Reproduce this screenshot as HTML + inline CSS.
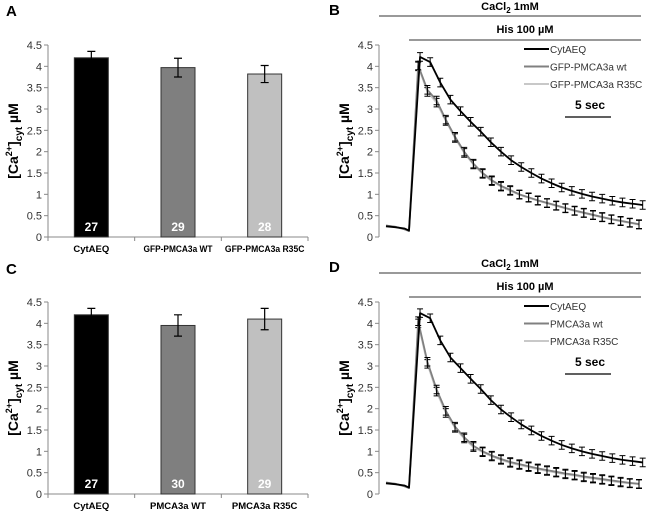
<!DOCTYPE html>
<html><head><meta charset="utf-8"><style>
body{margin:0;background:#fff;}
svg{display:block;font-family:"Liberation Sans",sans-serif;}
</style></head><body>
<svg id="fig" width="646" height="515" viewBox="0 0 646 515" xmlns="http://www.w3.org/2000/svg"></svg>
<script>
// ---- data ----
const barCatsA = ["CytAEQ","GFP-PMCA3a WT","GFP-PMCA3a R35C"];
const barValsA = [4.2, 3.97, 3.82];
const barErrA = [0.15, 0.22, 0.2];
const barNA = ["27","29","28"];
const barCatsC = ["CytAEQ","PMCA3a WT","PMCA3a R35C"];
const barValsC = [4.2, 3.95, 4.1];
const barErrC = [0.15, 0.25, 0.25];
const barNC = ["27","30","29"];
const barColors = ["#000000","#7f7f7f","#c0c0c0"];
const yTicks = [0,0.5,1,1.5,2,2.5,3,3.5,4,4.5];
const yTickLabels = ["0","0.5","1","1.5","2","2.5","3","3.5","4","4.5"];

const preT = [0,1,2,2.5];
const preBlack = [0.25,0.23,0.2,0.15];
const preGray = [0.27,0.24,0.18,0.14];
const blackPeakT = 3.7, blackStep = 1.1;
const grayPeakT = 3.5, grayStep = 1.0;
const blackB = [4.22,4.1,3.62,3.22,2.95,2.7,2.47,2.22,2.0,1.8,1.64,1.5,1.37,1.26,1.16,1.08,1.01,0.95,0.9,0.85,0.81,0.78,0.75];
const grayB = [4.02,3.45,3.2,2.75,2.35,2.0,1.72,1.5,1.33,1.2,1.1,1.0,0.93,0.86,0.8,0.74,0.68,0.62,0.57,0.52,0.47,0.42,0.38,0.34,0.3];
const lightB = [4.0,3.4,3.15,2.72,2.32,1.97,1.7,1.48,1.31,1.18,1.08,0.99,0.92,0.85,0.79,0.73,0.67,0.61,0.56,0.51,0.46,0.41,0.37,0.33,0.29];
const blackD = [4.24,4.12,3.6,3.2,2.95,2.7,2.46,2.2,1.98,1.8,1.63,1.49,1.36,1.25,1.15,1.07,1.0,0.94,0.89,0.84,0.8,0.77,0.74];
const grayD = [4.05,3.1,2.45,1.95,1.58,1.33,1.13,1.0,0.9,0.82,0.75,0.7,0.65,0.6,0.56,0.52,0.48,0.45,0.41,0.38,0.35,0.32,0.29,0.26,0.24];
const lightD = [4.0,3.05,2.4,1.9,1.55,1.3,1.1,0.98,0.88,0.8,0.73,0.68,0.63,0.58,0.54,0.5,0.46,0.43,0.39,0.36,0.33,0.3,0.27,0.25,0.23];
const legendB = ["CytAEQ","GFP-PMCA3a wt","GFP-PMCA3a R35C"];
const legendD = ["CytAEQ","PMCA3a wt","PMCA3a R35C"];

const NS="http://www.w3.org/2000/svg";
const svg=document.getElementById('fig');
function el(tag,attrs,parent,text){const e=document.createElementNS(NS,tag);for(const k in attrs)e.setAttribute(k,attrs[k]);if(text!==undefined)e.textContent=text;(parent||svg).appendChild(e);return e;}

function yAxis(g,x0,y0,yTop){
  const ys=v=>y0-(v/4.5)*(y0-yTop);
  el('line',{x1:x0,y1:y0,x2:x0,y2:yTop,stroke:'#888','stroke-width':1},g);
  yTicks.forEach((v,i)=>{
    el('line',{x1:x0-4,y1:ys(v),x2:x0,y2:ys(v),stroke:'#888'},g);
    const t=el('text',{x:x0-6,y:ys(v)+4,'text-anchor':'end','font-size':11,fill:'#333'},g,yTickLabels[i]);
    
    
  });
  const tt=el('text',{transform:`translate(${x0-30},${(y0+yTop)/2}) rotate(-90)`,'text-anchor':'middle','font-size':14,'font-weight':'bold',fill:'#000'},g);
  
  
  el('tspan',{},tt,'[Ca');
  el('tspan',{dy:-6,'font-size':9},tt,'2+');
  el('tspan',{dy:6},tt,']');
  el('tspan',{dy:4,'font-size':10},tt,'cyt');
  el('tspan',{dy:-4},tt,' µM');
  return ys;
}

function barPanel(letter,ly,y0,yTop,cats,vals,errs,ns,prefix){
  const g=el('g',{});
  
  
  const L=el('text',{x:6,y:ly,'font-size':15,'font-weight':'bold'},g,letter);
  
  
  const x0=48,x1=308;
  const ys=yAxis(g,x0,y0,yTop);
  el('line',{x1:x0,y1:y0,x2:x1,y2:y0,stroke:'#888'},g);
  const bw=(x1-x0)/cats.length;
  for(let i=0;i<=cats.length;i++) el('line',{x1:x0+i*bw,y1:y0,x2:x0+i*bw,y2:y0+4,stroke:'#888'},g);
  cats.forEach((c,i)=>{
    const cx=x0+bw*(i+0.5);
    const r=el('rect',{x:cx-17,y:ys(vals[i]),width:34,height:y0-ys(vals[i]),fill:barColors[i],stroke:'#333','stroke-width':1},g);
    
    
    const et=ys(vals[i]+errs[i]),eb=ys(vals[i]-errs[i]);
    const e=el('path',{d:`M${cx},${et}V${eb}M${cx-4},${et}H${cx+4}M${cx-4},${eb}H${cx+4}`,stroke:'#000','stroke-width':1.2,fill:'none'},g);
    
    
    const n=el('text',{x:cx,y:y0-6,'text-anchor':'middle','font-size':12,'font-weight':'bold',fill:'#fff'},g,ns[i]);
    
    
    const attrs={x:cx,y:y0+15,'text-anchor':'middle','font-size':9.5,'font-weight':'bold',fill:'#000'};
    if(c.length>12){attrs.textLength=Math.min(82,c.length*5.3);attrs.lengthAdjust='spacingAndGlyphs';}
    const cl=el('text',attrs,g,c);
    
    
  });
}

function tracePanel(letter,oy,y0,yTop,blk,gr,lt,legend,prefix){
  const g=el('g',{});
  
  
  const L=el('text',{x:329,y:oy+15,'font-size':15,'font-weight':'bold'},g,letter);
  
  
  const x0=379,tx0=386,pxs=9.2;
  const xs=t=>tx0+t*pxs;
  const ys=yAxis(g,x0,y0,yTop);
  el('line',{x1:379,y1:oy+16,x2:641,y2:oy+16,stroke:'#333','stroke-width':1},g);
  const ca=el('text',{x:510,y:oy+10,'text-anchor':'middle','font-size':11,'font-weight':'bold'},g);
  
  
  el('tspan',{},ca,'CaCl');el('tspan',{dy:3,'font-size':8},ca,'2');el('tspan',{dy:-3},ca,' 1mM');
  el('line',{x1:409,y1:oy+40,x2:641,y2:oy+40,stroke:'#333','stroke-width':1},g);
  const hs=el('text',{x:525,y:oy+33,'text-anchor':'middle','font-size':11,'font-weight':'bold'},g,'His 100 µM');
  
  
  const series=[[lt,'#c8c8c8',preGray,grayPeakT,grayStep],[gr,'#808080',preGray,grayPeakT,grayStep],[blk,'#000',preBlack,blackPeakT,blackStep]];
  series.forEach(([vals,col,pre,pt,st],si)=>{
    const pts=pre.map((v,i)=>[xs(preT[i]),ys(v)]);
    vals.forEach((v,i)=>pts.push([xs(pt+i*st),ys(v)]));
    const p=el('polyline',{points:pts.map(p=>p.join(',')).join(' '),fill:'none',stroke:col,'stroke-width':1.8,'stroke-linejoin':'round'},g);
    
    
    let d='';
    vals.forEach((v,i)=>{const x=xs(pt+i*st),a=ys(v+0.1),b=ys(v-0.1);d+=`M${x},${a}V${b}M${x-3},${a}H${x+3}M${x-3},${b}H${x+3}`;});
    const e=el('path',{d:d,stroke:'#000','stroke-width':1,fill:'none'},g);
    
    
  });
  const lcol=['#000','#808080','#c8c8c8'];
  legend.forEach((s,i)=>{
    const ly=oy+49+i*17.5;
    el('line',{x1:524,y1:ly,x2:549,y2:ly,stroke:lcol[i],'stroke-width':2},g);
    const t=el('text',{x:550,y:ly+4,'font-size':10,fill:'#333'},g,s);
    
    
  });
  el('line',{x1:565,y1:oy+117,x2:611,y2:oy+117,stroke:'#000','stroke-width':1.2},g);
  const sc=el('text',{x:590,y:oy+109,'text-anchor':'middle','font-size':12,'font-weight':'bold'},g,'5 sec');
  
  
}

barPanel('A',16,237,45,barCatsA,barValsA,barErrA,barNA,'panel-a');
barPanel('C',274,494,302,barCatsC,barValsC,barErrC,barNC,'panel-c');
tracePanel('B',0,237,45,blackB,grayB,lightB,legendB,'panel-b');
tracePanel('D',257,494,302,blackD,grayD,lightD,legendD,'panel-d');
</script>
</body></html>
